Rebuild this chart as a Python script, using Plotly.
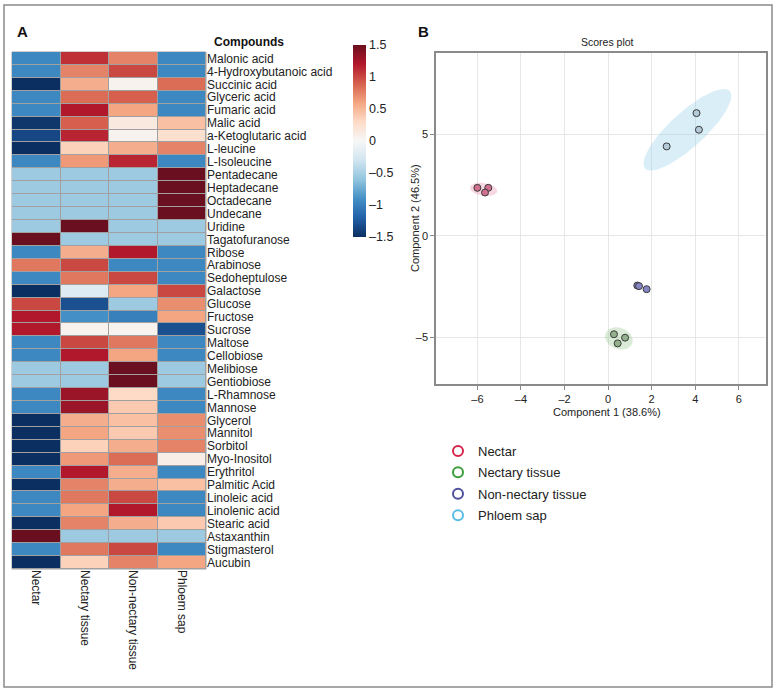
import numpy as np
import plotly.graph_objects as go

# Panel A: heatmap data
compounds = [
    "Malonic acid", "4-Hydroxybutanoic acid", "Succinic acid", "Glyceric acid",
    "Fumaric acid", "Malic acid", "a-Ketoglutaric acid", "L-leucine",
    "L-Isoleucine", "Pentadecane", "Heptadecane", "Octadecane", "Undecane",
    "Uridine", "Tagatofuranose", "Ribose", "Arabinose", "Sedoheptulose",
    "Galactose", "Glucose", "Fructose", "Sucrose", "Maltose", "Cellobiose",
    "Melibiose", "Gentiobiose", "L-Rhamnose", "Mannose", "Glycerol",
    "Mannitol", "Sorbitol", "Myo-Inositol", "Erythritol", "Palmitic Acid",
    "Linoleic acid", "Linolenic acid", "Stearic acid", "Astaxanthin",
    "Stigmasterol", "Aucubin",
]
samples = ["Nectar", "Nectary tissue", "Non-nectary tissue", "Phloem sap"]

nectar = [-0.95, -0.95, -1.5, -0.95, -0.95, -1.45, -1.35, -1.5, -0.95, -0.55,
          -0.55, -0.55, -0.55, -0.55, 1.5, -0.95, 0.8, -0.95, -1.5, 1.0,
          1.2, 1.2, -0.95, -0.95, -0.55, -0.55, -0.95, -0.95, -1.5, -1.5,
          -1.5, -1.5, -0.95, -1.5, -0.95, -0.95, -1.5, 1.5, -0.95, -1.5]
nectary = [1.1, 0.75, 0.55, 0.85, 1.2, 0.9, 1.15, 0.35, 0.65, -0.55,
           -0.55, -0.55, -0.55, 1.5, -0.55, 0.55, 1.0, 0.8, -0.2, -1.3,
           -0.9, 0.05, 1.0, 1.2, -0.55, -0.55, 1.3, 1.3, 0.55, 0.6,
           0.35, 0.65, 1.2, 0.75, 0.8, 0.6, 0.75, -0.55, 0.8, 0.35]
non_nectary = [0.75, 1.0, 0.05, 0.9, 0.6, 0.15, 0.05, 0.55, 1.15, -0.55,
               -0.55, -0.55, -0.55, -0.55, -0.55, 1.2, -0.95, 1.0, 0.6, -0.55,
               -1.0, 0.05, 0.8, 0.6, 1.5, 1.5, 0.3, 0.4, 0.45, 0.4,
               0.55, 0.85, 0.55, 0.55, 1.0, 1.2, 0.55, -0.55, 1.0, 0.75]
phloem = [-0.95, -0.95, 0.85, -0.95, -0.95, 0.45, 0.25, 0.75, -0.95, 1.5,
          1.5, 1.5, 1.5, -0.55, -0.55, -0.95, -0.95, -0.95, 1.0, 0.7,
          0.6, -1.3, -0.95, -0.95, -0.55, -0.55, -0.95, -0.95, 0.7, 0.7,
          0.75, 0.1, -0.95, 0.45, -0.95, -0.95, 0.4, -0.55, -0.95, 0.6]

cbar_vals = [-1.5, -1, -0.5, 0, 0.5, 1, 1.5]
cbar_text = ["\u20131.5", "\u20131", "\u20130.5", "0", "0.5", "1", "1.5"]

# Panel B: PLS-DA scores
groups = ["Nectar", "Nectary tissue", "Non-nectary tissue", "Phloem sap"]
comp1 = {
    "Nectar": [-6.0, -5.5, -5.65],
    "Nectary tissue": [0.27, 0.78, 0.44],
    "Non-nectary tissue": [1.34, 1.42, 1.77],
    "Phloem sap": [4.06, 4.17, 2.69],
}
comp2 = {
    "Nectar": [2.36, 2.36, 2.13],
    "Nectary tissue": [-4.85, -5.02, -5.30],
    "Non-nectary tissue": [-2.45, -2.48, -2.63],
    "Phloem sap": [6.04, 5.22, 4.40],
}
x_ticks = [-6, -4, -2, 0, 2, 4, 6]
y_ticks = [-5, 0, 5]

group_color = {
    "Nectar": "#d6254a",
    "Nectary tissue": "#3a9e3a",
    "Non-nectary tissue": "#4e4fa0",
    "Phloem sap": "#5bbce6",
}
point_fill = {
    "Nectar": "#d0708f",
    "Nectary tissue": "#93b18c",
    "Non-nectary tissue": "#8486c4",
    "Phloem sap": "#b3cbd8",
}
ellipse_fill = {
    "Nectar": "rgba(232,140,170,0.35)",
    "Nectary tissue": "rgba(150,200,140,0.35)",
    "Non-nectary tissue": "rgba(110,110,190,0.35)",
    "Phloem sap": "rgba(150,205,235,0.35)",
}

W, H = 780, 696
FONT = "Liberation Sans, Arial, sans-serif"


def px(x):
    return x / W


def py(y):
    return 1 - y / H


def ellipse(xs, ys, k=2.448, n=100):
    pts = np.vstack([xs, ys])
    mu = pts.mean(axis=1)
    cov = np.cov(pts)
    vals, vecs = np.linalg.eigh(cov)
    t = np.linspace(0, 2 * np.pi, n)
    circ = np.vstack([np.cos(t), np.sin(t)])
    e = vecs @ (np.sqrt(vals)[:, None] * circ) * k
    return e[0] + mu[0], e[1] + mu[1]


fig = go.Figure()

rdbu = [
    [0.0, "#0b2f60"], [0.1, "#2160a8"], [0.2, "#4490c6"], [0.3, "#92c5de"],
    [0.4, "#d1e5f0"], [0.5, "#f7f7f7"], [0.6, "#fddbc7"], [0.7, "#f4a582"],
    [0.8, "#d6604d"], [0.9, "#b2182b"], [1.0, "#6a0f1f"],
]

z = [list(r) for r in zip(nectar, nectary, non_nectary, phloem)]
fig.add_trace(go.Heatmap(
    z=z, x=samples, y=compounds, zmin=-1.5, zmax=1.5,
    colorscale=rdbu, xgap=1, ygap=1,
    xaxis="x", yaxis="y", hoverinfo="skip",
    colorbar=dict(
        x=px(353), xanchor="left", xpad=0, y=py(141), yanchor="middle",
        ypad=0, thickness=13, thicknessmode="pixels",
        len=192, lenmode="pixels", outlinewidth=0,
        tickvals=cbar_vals, ticktext=cbar_text, ticks="",
        tickfont=dict(size=12.5, color="#222", family=FONT),
    ),
))

# ellipses
for g in groups:
    ex, ey = ellipse(comp1[g], comp2[g])
    fig.add_trace(go.Scatter(
        x=ex, y=ey, mode="lines", fill="toself",
        fillcolor=ellipse_fill[g], line=dict(width=0),
        xaxis="x2", yaxis="y2", showlegend=False, hoverinfo="skip",
    ))

# points
for g in groups:
    fig.add_trace(go.Scatter(
        x=comp1[g], y=comp2[g], mode="markers",
        marker=dict(size=7, color=point_fill[g],
                    line=dict(width=1, color="#3a3a3a")),
        xaxis="x2", yaxis="y2", showlegend=False,
    ))

# legend entries
for g in groups:
    fig.add_trace(go.Scatter(
        x=[None], y=[None], mode="markers", name=g, legendgroup=g,
        marker=dict(size=10, symbol="circle-open", color=group_color[g],
                    line=dict(width=2)),
        xaxis="x2", yaxis="y2",
    ))

fig.update_layout(
    width=W, height=H,
    margin=dict(l=0, r=0, t=0, b=0),
    paper_bgcolor="white",
    plot_bgcolor="white",
    font=dict(family=FONT, color="#222"),
    xaxis=dict(
        domain=[px(12), px(206)], anchor="y",
        side="bottom", tickangle=90, ticks="", showgrid=False,
        zeroline=False, showline=False,
        tickfont=dict(size=12, color="#222"),
    ),
    yaxis=dict(
        domain=[py(569), py(52)], anchor="x",
        side="right", autorange="reversed", ticks="", showgrid=False,
        zeroline=False, showline=False, tickmode="array",
        tickvals=compounds, ticktext=compounds,
        tickfont=dict(size=12, color="#222"),
    ),
    xaxis2=dict(
        domain=[px(436), px(766)], anchor="y2",
        range=[-7.9, 7.25], tickvals=x_ticks,
        ticktext=[("\u2013" + str(-v)) if v < 0 else str(v) for v in x_ticks],
        showgrid=True, gridcolor="#e6e6e6", zeroline=False,
        showline=True, linecolor="#8a8a8a", linewidth=1.5, mirror=True,
        ticks="outside", ticklen=4, tickcolor="#8a8a8a",
        tickfont=dict(size=11, color="#222"),
    ),
    yaxis2=dict(
        domain=[py(384), py(53)], anchor="x2",
        range=[-7.3, 9.0], tickvals=y_ticks,
        ticktext=[("\u2013" + str(-v)) if v < 0 else str(v) for v in y_ticks],
        showgrid=True, gridcolor="#e6e6e6", zeroline=False,
        showline=True, linecolor="#8a8a8a", linewidth=1.5, mirror=True,
        ticks="outside", ticklen=4, tickcolor="#8a8a8a",
        tickfont=dict(size=11, color="#222"),
    ),
    legend=dict(
        x=px(438), y=py(436), xanchor="left", yanchor="top",
        font=dict(size=13, color="#222"), tracegroupgap=1.5,
        bgcolor="rgba(0,0,0,0)",
    ),
    annotations=[
        dict(text="<b>A</b>", x=px(22), y=py(32), xref="paper", yref="paper",
             xanchor="center", yanchor="middle", showarrow=False,
             font=dict(size=15, color="#111")),
        dict(text="<b>B</b>", x=px(424), y=py(32), xref="paper", yref="paper",
             xanchor="center", yanchor="middle", showarrow=False,
             font=dict(size=15, color="#111")),
        dict(text="<b>Compounds</b>", x=px(212), y=py(42), xref="paper",
             yref="paper", xanchor="left", yanchor="middle", showarrow=False,
             font=dict(size=12, color="#111")),
        dict(text="Scores plot", x=px(607), y=py(42), xref="paper",
             yref="paper", xanchor="center", yanchor="middle",
             showarrow=False, font=dict(size=10.5, color="#222")),
        dict(text="Component 1 (38.6%)", x=px(607), y=py(412), xref="paper",
             yref="paper", xanchor="center", yanchor="middle",
             showarrow=False, font=dict(size=11, color="#222")),
        dict(text="Component 2 (46.5%)", x=px(415), y=py(218), xref="paper",
             yref="paper", xanchor="center", yanchor="middle", textangle=-90,
             showarrow=False, font=dict(size=11, color="#222")),
    ],
    shapes=[
        # gray behind the heatmap shows through the cell gaps
        dict(type="rect", xref="x domain", yref="y domain",
             x0=0, x1=1, y0=0, y1=1, layer="below",
             fillcolor="#a0a0a0", line=dict(color="#a0a0a0", width=1)),
        dict(type="rect", xref="paper", yref="paper",
             x0=px(4), x1=px(772), y0=py(687), y1=py(5),
             line=dict(color="#8a8a8a", width=1.5)),
    ],
)

# drop the browser's default body margin so the figure fills the window
fig.write_html("out.html", config={"displayModeBar": False},
               post_script="document.body.style.margin='0';")
